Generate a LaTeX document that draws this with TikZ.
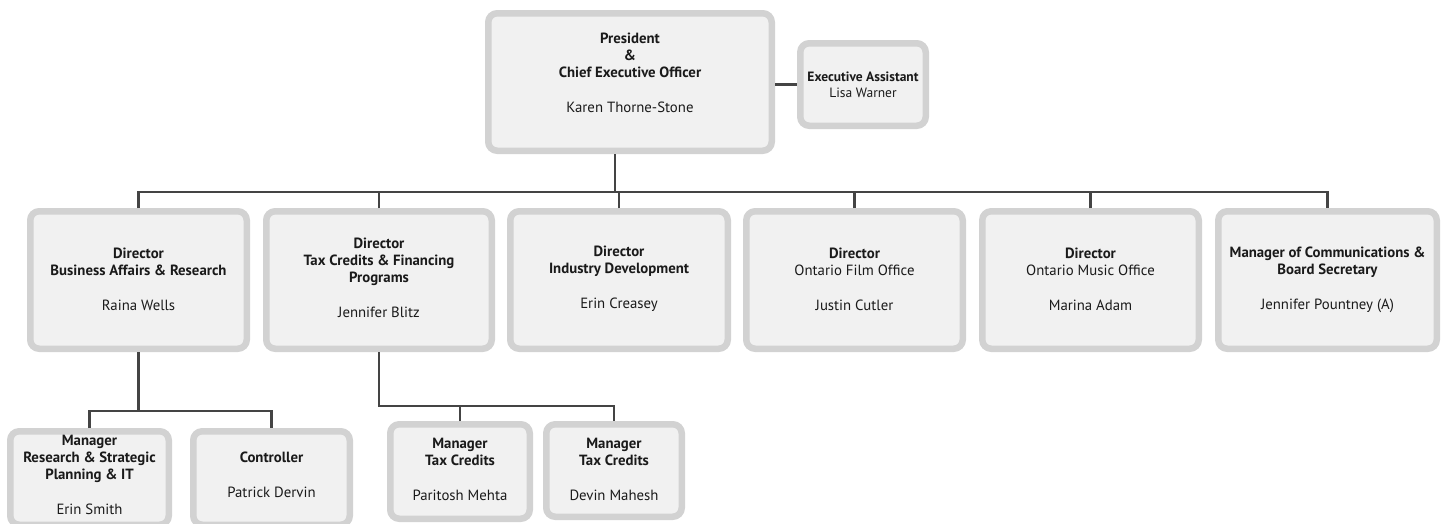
\documentclass[tikz,border=0pt]{standalone}
\usepackage{fontspec}
\setmainfont{PT Sans}
\definecolor{frame}{HTML}{D2D2D2}
\definecolor{boxfill}{HTML}{F1F1F1}
\definecolor{wire}{HTML}{444444}
\definecolor{ink}{HTML}{1A1A1A}
\tikzset{
  card/.style={draw=frame, line width=6.5pt, fill=boxfill, rounded corners=9pt,
    outer sep=3.25pt, inner sep=0pt},
  txt/.style={align=center, text=ink, font=\fontsize{14.8}{17}\selectfont, inner sep=0pt},
  smalltxt/.style={align=center, text=ink, font=\fontsize{13.5}{16}\selectfont, inner sep=0pt},
  wires/.style={draw=wire, line width=2.2pt}
}
\newcommand{\cardat}[5]{% name, x1, y1, x2, y2 (outer edges)
  \node[card, minimum width={#4-#2-6.5}, minimum height={#5-#3-6.5}] (#1) at ({(#2+#4)/2},{(#3+#5)/2}) {};}
\begin{document}
\begin{tikzpicture}[x=1pt,y=-1pt]
\useasboundingbox (0,0) rectangle (1447,523);
% boxes
\cardat{pres}{485}{10}{775}{154}
\cardat{ea}{797}{40}{929}{129}
\cardat{b1}{27}{208}{250}{352}
\cardat{b2}{263}{208}{495}{352}
\cardat{b3}{507}{208}{731}{352}
\cardat{b4}{743}{208}{966}{352}
\cardat{b5}{979}{208}{1202}{352}
\cardat{b6}{1215}{208}{1440}{352}
\cardat{r1}{7}{428}{172}{528}
\cardat{r2}{190}{428}{353}{528}
\cardat{r3}{387}{421}{533}{522}
\cardat{r4}{543}{421}{685}{520}
% texts
\node[txt] (tpres) at (630,72.5) {\textbf{President}\\\textbf{\&}\\\textbf{Chief Executive Officer}\\[18pt]Karen Thorne-Stone};
\node[smalltxt] (tea) at (863,85) {\textbf{Executive Assistant}\\Lisa Warner};
\node[txt] (tb1) at (138.5,279) {\textbf{Director}\\\textbf{Business Affairs \& Research}\\[18pt]Raina Wells};
\node[txt] (tb2) at (379,278) {\textbf{Director}\\\textbf{Tax Credits \& Financing}\\\textbf{Programs}\\[18pt]Jennifer Blitz};
\node[txt] (tb3) at (619,279) {\textbf{Director}\\\textbf{Industry Development}\\[18pt]Erin Creasey};
\node[txt] (tb4) at (854.5,279) {\textbf{Director}\\Ontario Film Office\\[18pt]Justin Cutler};
\node[txt] (tb5) at (1090.5,279) {\textbf{Director}\\Ontario Music Office\\[18pt]Marina Adam};
\node[txt] (tb6) at (1327.5,279.5) {\textbf{Manager of Communications \&}\\\textbf{Board Secretary}\\[18pt]Jennifer Pountney (A)};
\node[txt] (tr1) at (89.5,475) {\textbf{Manager}\\\textbf{Research \& Strategic}\\\textbf{Planning \& IT}\\[18pt]Erin Smith};
\node[txt] (tr2) at (271.5,475) {\textbf{Controller}\\[18pt]Patrick Dervin};
\node[txt] (tr3) at (460,469.5) {\textbf{Manager}\\\textbf{Tax Credits}\\[18pt]Paritosh Mehta};
\node[txt] (tr4) at (614,469) {\textbf{Manager}\\\textbf{Tax Credits}\\[18pt]Devin Mahesh};
% connectors
\coordinate (bus) at (615,192);
\coordinate (j1) at (138.5,411);
\coordinate (j2) at (379,406);
\draw[wires] ([xshift=-15pt]pres.south) -- (bus);
\draw[wires] (ea.west -| pres.east) -- (ea.west);
\draw[wires] (b1.north) -- (b1.north |- bus) -- (b6.north |- bus) -- (b6.north);
\foreach \b in {b2,b3,b4,b5} \draw[wires] (\b.north) -- (\b.north |- bus);
\draw[wires] (b1.south) -- (j1);
\draw[wires] (r1.north) |- (j1) -| (r2.north);
\draw[wires] (b2.south) -- (j2) -| (r4.north);
\draw[wires] (r3.north) -- (r3.north |- j2);
\end{tikzpicture}
\end{document}
